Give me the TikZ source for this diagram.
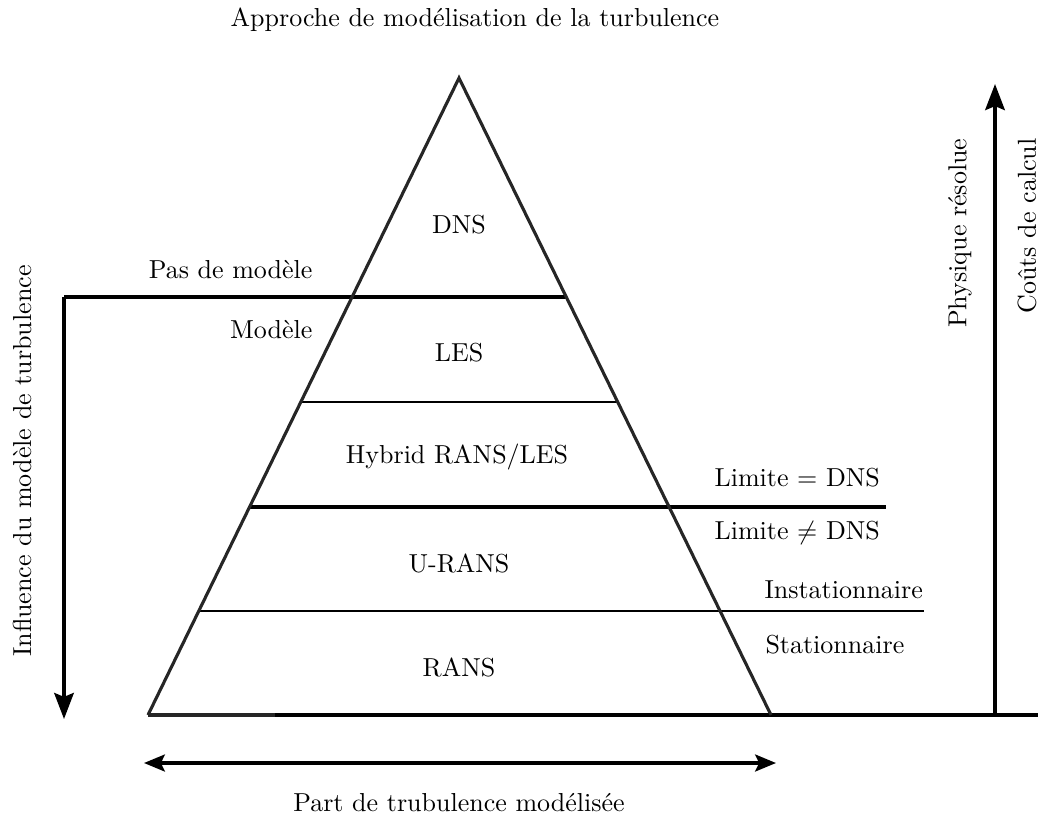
\documentclass[tikz,border=0pt]{standalone}
\usetikzlibrary{arrows.meta}
\begin{document}
\begin{tikzpicture}[x=0.3846pt,y=-0.3846pt,
  tri/.style={draw=black!85,line width=1.2pt,line join=miter},
  thickln/.style={draw=black,line width=1.7pt},
  thinln/.style={draw=black,line width=0.8pt},
  arr/.style={draw=black,line width=1.4pt,-{Stealth[length=10pt,width=7.5pt,inset=1.5pt]}},
  darr/.style={draw=black,line width=1.3pt,{Stealth[length=8pt,width=6.5pt,inset=1.5pt]}-{Stealth[length=8pt,width=6.5pt,inset=1.5pt]}},
  lbl/.style={inner sep=0pt,font=\normalsize}]
\useasboundingbox (0,0) rectangle (1038,816);
% triangle
\coordinate (apex) at (459,78);
\coordinate (bl) at (148,715);
\coordinate (br) at (771,715);
\coordinate (bm) at (275,715);
\coordinate (bend) at (1038,715);
% level lines
\coordinate (l1a) at (64,297);  \coordinate (l1b) at (567,297);
\coordinate (l2a) at (301,402); \coordinate (l2b) at (617,402);
\coordinate (l3a) at (250,507); \coordinate (l3b) at (886,507);
\coordinate (l4a) at (199,611); \coordinate (l4b) at (924,611);
\coordinate (ltip) at (64,719);
\coordinate (rbot) at (995,715); \coordinate (rtip) at (995,84);
\coordinate (ha) at (144,763); \coordinate (hb) at (776,763);

\draw[thinln] (l2a) -- (l2b);
\draw[thinln] (l4a) -- (l4b);
\draw[thickln] (l3a) -- (l3b);
\draw[thickln] (bm) -- (bend);
\draw[thickln] (l1b) -- (l1a);
\draw[arr] (l1a) -- (ltip);
\draw[tri] (bl) -- (apex) -- (br);
\draw[tri] (bl) -- (bm);
\draw[arr] (rbot) -- (rtip);
\draw[darr] (ha) -- (hb);

% labels
\node[lbl] (title) at (475,20) {Approche de modélisation de la turbulence};
\node[lbl] (dns) at (459,225) {DNS};
\node[lbl] (les) at (459,353) {LES};
\node[lbl] (hyb) at (457,457) {Hybrid RANS/LES};
\node[lbl] (urans) at (459,563) {U-RANS};
\node[lbl] (rans) at (459,667) {RANS};
\node[lbl,anchor=east] (pas) at (313,270) {Pas de modèle};
\node[lbl,anchor=east] (mod) at (313,330) {Modèle};
\node[lbl,anchor=west] (limeq) at (714,478) {Limite $=$ DNS};
\node[lbl,anchor=west] (limne) at (714,533) {Limite $\neq$ DNS};
\node[lbl,anchor=west] (inst) at (764,590) {Instationnaire};
\node[lbl,anchor=west] (stat) at (765,645) {Stationnaire};
\node[lbl] (part) at (459,803) {Part de trubulence modélisée};
\node[lbl,rotate=90] (infl) at (22,461) {Influence du modèle de turbulence};
\node[lbl,rotate=90,anchor=east] (phys) at (960,138) {Physique résolue};
\node[lbl,rotate=90,anchor=east] (couts) at (1027,138) {Coûts de calcul};
\end{tikzpicture}
\end{document}
